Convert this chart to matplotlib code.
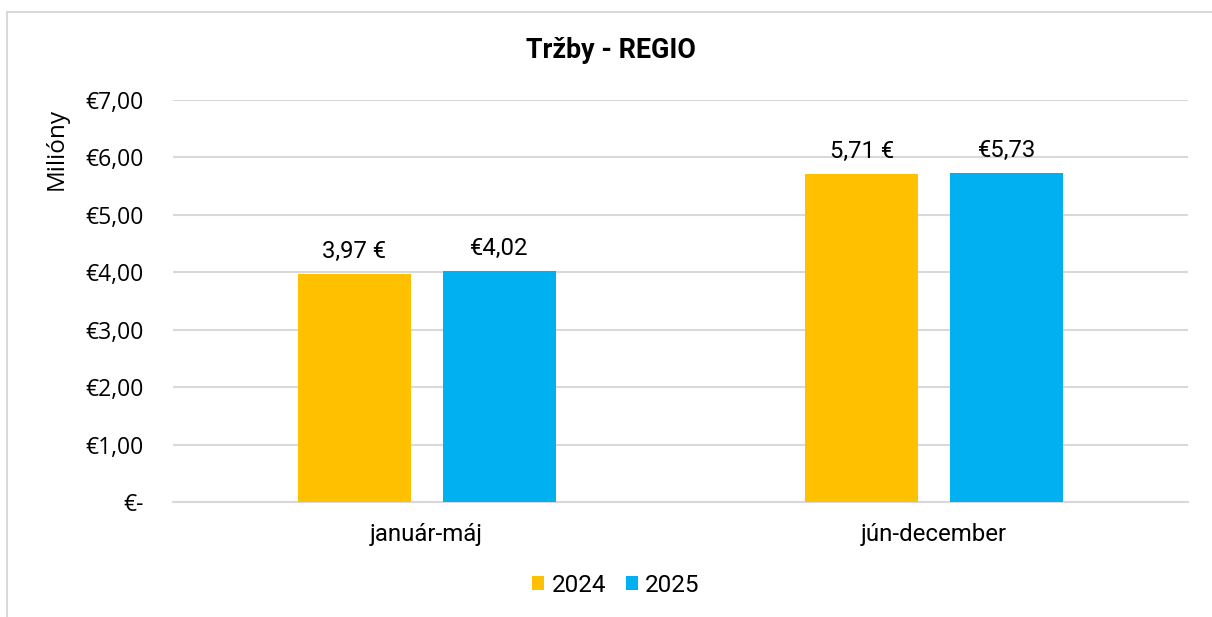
import matplotlib
matplotlib.use("Agg")
import matplotlib.pyplot as plt
from matplotlib.patches import Rectangle

categories = ["január-máj", "jún-december"]
series_names = ["2024", "2025"]
sales_2024 = [3.97, 5.71]
sales_2025 = [4.02, 5.73]
labels_2024 = ["3,97 €", "5,71 €"]
labels_2025 = ["€4,02", "€5,73"]
yticks = [0, 1, 2, 3, 4, 5, 6, 7]

colors = ["#FFC000", "#00B0F0"]
grid_color = "#D9D9D9"
text_color = "#000000"

W, H = 1212, 617
fig = plt.figure(figsize=(W / 100, H / 100), dpi=100)
fig.patch.set_facecolor("white")

# chart frame
fig.patches.append(Rectangle((7 / W, -0.1), 1.2, 1 - 12 / H + 0.1,
                             transform=fig.transFigure, fill=False,
                             edgecolor=grid_color, linewidth=1.5))

ax = fig.add_axes([173 / W, 1 - 502 / H, (1188 - 173) / W, (502 - 100) / H])
ax.set_xlim(-0.5, 1.5)
ax.set_ylim(0, 7)

bar_w = 0.2227
offset = 0.1426
x = list(range(len(categories)))
b1 = ax.bar([i - offset for i in x], sales_2024, width=bar_w, color=colors[0],
            label=series_names[0], zorder=3)
b2 = ax.bar([i + offset for i in x], sales_2025, width=bar_w, color=colors[1],
            label=series_names[1], zorder=3)

for bars, labs in ((b1, labels_2024), (b2, labels_2025)):
    for rect, lab in zip(bars, labs):
        ax.annotate(lab, (rect.get_x() + rect.get_width() / 2, rect.get_height()),
                    xytext=(0, 8), textcoords="offset points", ha="center",
                    va="bottom", fontsize=17.2, family="Roboto", color=text_color)

ax.set_yticks(yticks)
ax.set_yticklabels(["€-" if v == 0 else ("€%.2f" % v).replace(".", ",") for v in yticks],
                   family="Open Sans", fontsize=16.5, color=text_color)
ax.set_xticks(x)
ax.set_xticklabels(categories, family="Roboto", fontsize=17.3, color=text_color)
ax.tick_params(axis="y", length=0, pad=21)
ax.tick_params(axis="x", length=0, pad=15)

ax.grid(axis="y", color=grid_color, linewidth=1.5, zorder=0)
for s in ("top", "right", "left"):
    ax.spines[s].set_visible(False)
ax.spines["bottom"].set_color(grid_color)
ax.spines["bottom"].set_linewidth(1.5)

fig.text(611 / W, 1 - 50 / H, "Tržby - REGIO", ha="center", va="center",
         family="Roboto", fontweight="bold", fontsize=19.4, color=text_color)
fig.text(57 / W, 1 - 149 / H, "Milióny", ha="center", va="center", rotation=90,
         family="Open Sans", fontsize=17.5, color=text_color)

fig.legend(handles=[b1, b2], labels=series_names, loc="center",
           bbox_to_anchor=(616 / W, 1 - 585 / H), ncol=2, frameon=False,
           prop={"family": "Roboto", "size": 17.5}, handlelength=0.5,
           handleheight=0.5, handletextpad=0.3, columnspacing=0.8)

fig.savefig("out.png", dpi=100, facecolor="white")
